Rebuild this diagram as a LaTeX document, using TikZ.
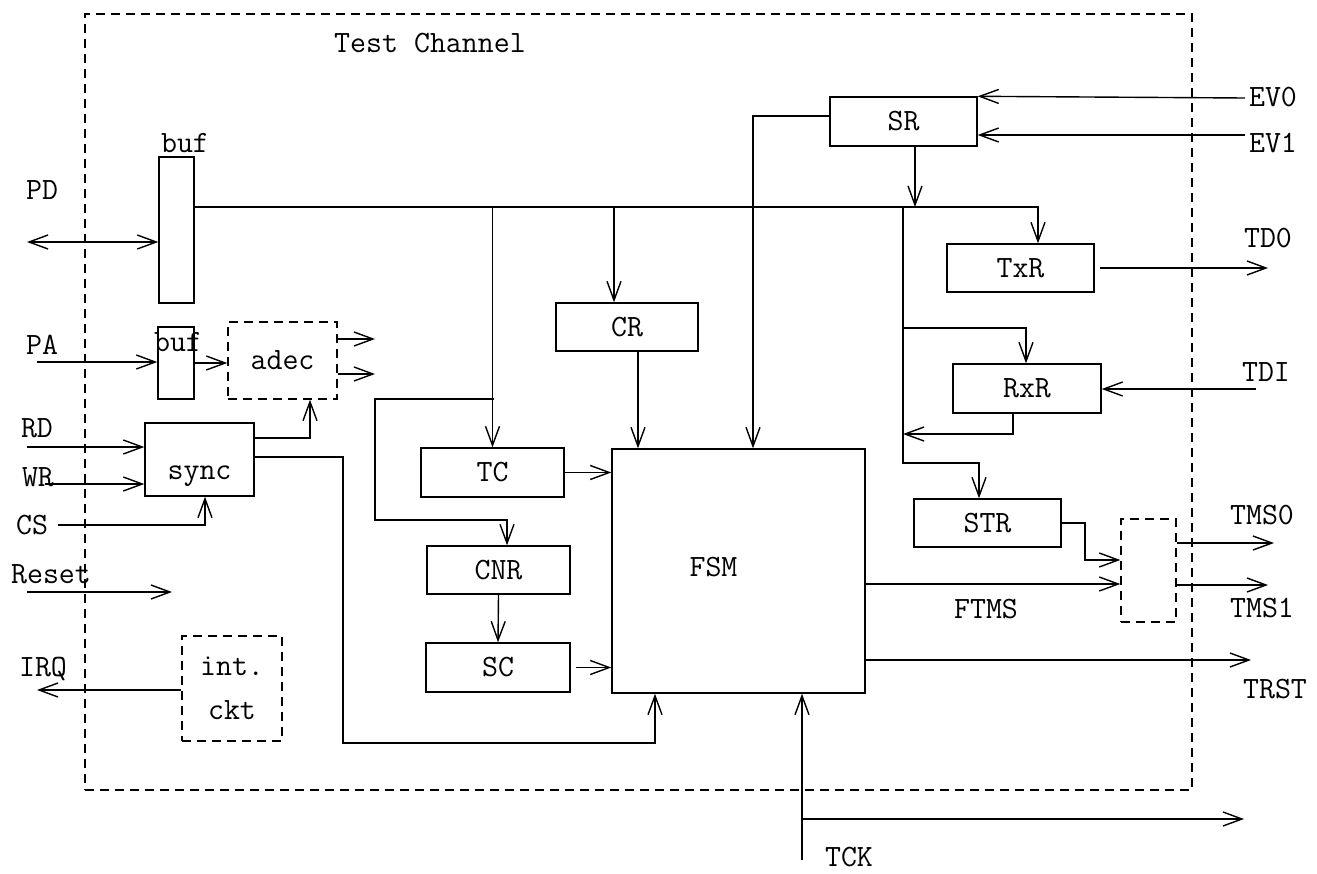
\documentclass[tikz,border=0pt]{standalone}
\usepackage{tikz}
\usetikzlibrary{arrows.meta,positioning,calc}

\tikzset{
  blk/.style={draw, line width=0.7pt, inner sep=0pt},
  dblk/.style={blk, dash pattern=on 4.5pt off 3pt},
  sz/.style 2 args={minimum width=#1*0.5pt, minimum height=#2*0.5pt},
  wire/.style={line width=0.7pt},
  arr/.style={wire, -{Straight Barb[length=9.5pt,width=7pt]}},
  arrb/.style={wire, {Straight Barb[length=9.5pt,width=7pt]}-{Straight Barb[length=9.5pt,width=7pt]}},
}

\begin{document}
\begin{tikzpicture}[x=0.5pt,y=-0.5pt,font=\fontsize{15.5}{19}\selectfont\ttfamily]
\useasboundingbox (0,0) rectangle (1317,873);
% frame
\node[dblk, sz={1107}{776}] (chan) at (638.5,402) {};
\node (title) at (430,43) {Test Channel};

% blocks
\node[blk, sz={35}{146}] (buf1) at (176.5,230) {};
\node (buf1lbl) at (185,143) {buf};
\node[blk, sz={36}{72}] (buf2) at (176,363) {};
\node (buf2lbl) at (178,342) {buf};
\node[dblk, sz={109}{77}] (adec) at (282.5,360.5) {adec};
\node[blk, sz={109}{73}, label={[yshift=-8.5pt]center:sync}] (sync) at (199.5,459.5) {};
\node[dblk, sz={100}{105}, align=center] (intckt) at (232,688.5) {int.\\[3pt]ckt};
\node[blk, sz={143}{49}] (TC) at (492.5,472.5) {TC};
\node[blk, sz={143}{48}] (CNR) at (498.5,570) {CNR};
\node[blk, sz={144}{49}] (SC) at (498,667.5) {SC};
\node[blk, sz={142}{48}] (CR) at (627,327) {CR};
\node[blk, sz={253}{244}, label={[xshift=-12.5pt,yshift=2pt]center:FSM}] (FSM) at (738.5,571) {};
\node[blk, sz={147}{49}] (SR) at (903.5,121.5) {SR};
\node[blk, sz={147}{48}] (TxR) at (1020.5,268) {TxR};
\node[blk, sz={148}{49}] (RxR) at (1027,388.5) {RxR};
\node[blk, sz={147}{48}] (STR) at (987.5,523) {STR};
\node[dblk, sz={55}{103}] (mux) at (1148.5,570.5) {};

% pin labels
\node (PD) at (42,190) {PD};
\node (PA) at (42,345) {PA};
\node (RD) at (37,428) {RD};
\node (WR) at (38,477) {WR};
\node (CS) at (32,525) {CS};
\node (Reset) at (51,574) {Reset};
\node (IRQ) at (43,669) {IRQ};
\node (EV0) at (1273,97) {EV0};
\node (EV1) at (1273,143) {EV1};
\node (TD0) at (1268,238) {TD0};
\node (TDI) at (1266,372) {TDI};
\node (TMS0) at (1262,515) {TMS0};
\node (TMS1) at (1262,608) {TMS1};
\node (TRST) at (1275,689) {TRST};
\node (FTMS) at (986,609) {FTMS};
\node (TCK) at (849,857) {TCK};

% free ends
\coordinate (pdE) at (27,242);
\coordinate (paE) at (37,362);
\coordinate (rdE) at (27,447);
\coordinate (wrE) at (45,484);
\coordinate (csE) at (58,525);
\coordinate (rsA) at (27,592);
\coordinate (rsB) at (172,592);
\coordinate (irqE) at (37,690);
\coordinate (ad1E) at (375,339);
\coordinate (ad2E) at (375,374);
\coordinate (ev0E) at (1245,98);
\coordinate (ev1E) at (1245,135);
\coordinate (tdoE) at (1268,268);
\coordinate (tdiE) at (1256,389);
\coordinate (tms0E) at (1274,543);
\coordinate (tms1E) at (1268,585);
\coordinate (trstE) at (1251,660);
\coordinate (tckA) at (802,860);
\coordinate (tckB) at (1244,819);

% host side
\draw[arrb] (pdE) -- (pdE -| buf1.west);
\draw[arr] (paE) -- (paE -| buf2.west);
\draw[arr] (buf2.east) -- (buf2.east -| adec.west);
\draw[arr] (ad1E -| adec.east) -- (ad1E);
\draw[arr] (ad2E -| adec.east) -- (ad2E);
\draw[arr] (rdE) -- (rdE -| sync.west);
\draw[arr] (wrE) -- (wrE -| sync.west);
\draw[arr] (csE) -| (205,0 |- sync.south);
\draw[arr] (sync.east |- 0,438) -| (310,0 |- adec.south);
\draw[arr] (sync.east |- 0,457) -| (343,743) -| (655,0 |- FSM.south);
\draw[arr] (rsA) -- (rsB);
\draw[arr] (intckt.west |- irqE) -- (irqE);

% data bus
\draw[arr] (buf1.east |- 0,207) -| (1038,0 |- TxR.north);
\draw[arr] (TC.north |- 0,207) -- (TC.north);
\draw[arr] (494,399) -| (375,520) -| (507,0 |- CNR.north);
\draw[arr] (CNR.south) -- (SC.north);
\draw[arr] (TC.east) -- (TC.east -| FSM.west);
\draw[arr, shorten <=2.5pt] (SC.east) -- (SC.east -| FSM.west);
\draw[arr] (614,207) -- (614,0 |- CR.north);
\draw[arr] (638,0 |- CR.south) -- (638,0 |- FSM.north);

% test side
\draw[arr] (SR.west |- 0,116) -| (753,0 |- FSM.north);
\draw[arr] (915,0 |- SR.south) -- (915,207);
\draw[arr] (ev0E) -- (SR.north east);
\draw[arr] (ev1E) -- (ev1E -| SR.east);
\draw[arr] (903,207) -- (903,463) -| (979,0 |- STR.north);
\draw[arr] (903,328) -| (1026,0 |- RxR.north);
\draw[arr] (1013,0 |- RxR.south) |- (903,434);
\draw[arr, shorten <=2.5pt] (TxR.east) -- (tdoE);
\draw[arr] (tdiE) -- (tdiE -| RxR.east);
\draw[arr] (STR.east) -| (1085,560) -- (mux.west |- 0,560);
\draw[arr] (FSM.east |- 0,584) -- (mux.west |- 0,584);
\draw[arr] (mux.east |- tms0E) -- (tms0E);
\draw[arr] (mux.east |- tms1E) -- (tms1E);
\draw[arr] (FSM.east |- trstE) -- (trstE);
\draw[arr] (tckA) -- (tckA |- FSM.south);
\draw[arr] (tckA |- tckB) -- (tckB);
\end{tikzpicture}
\end{document}
